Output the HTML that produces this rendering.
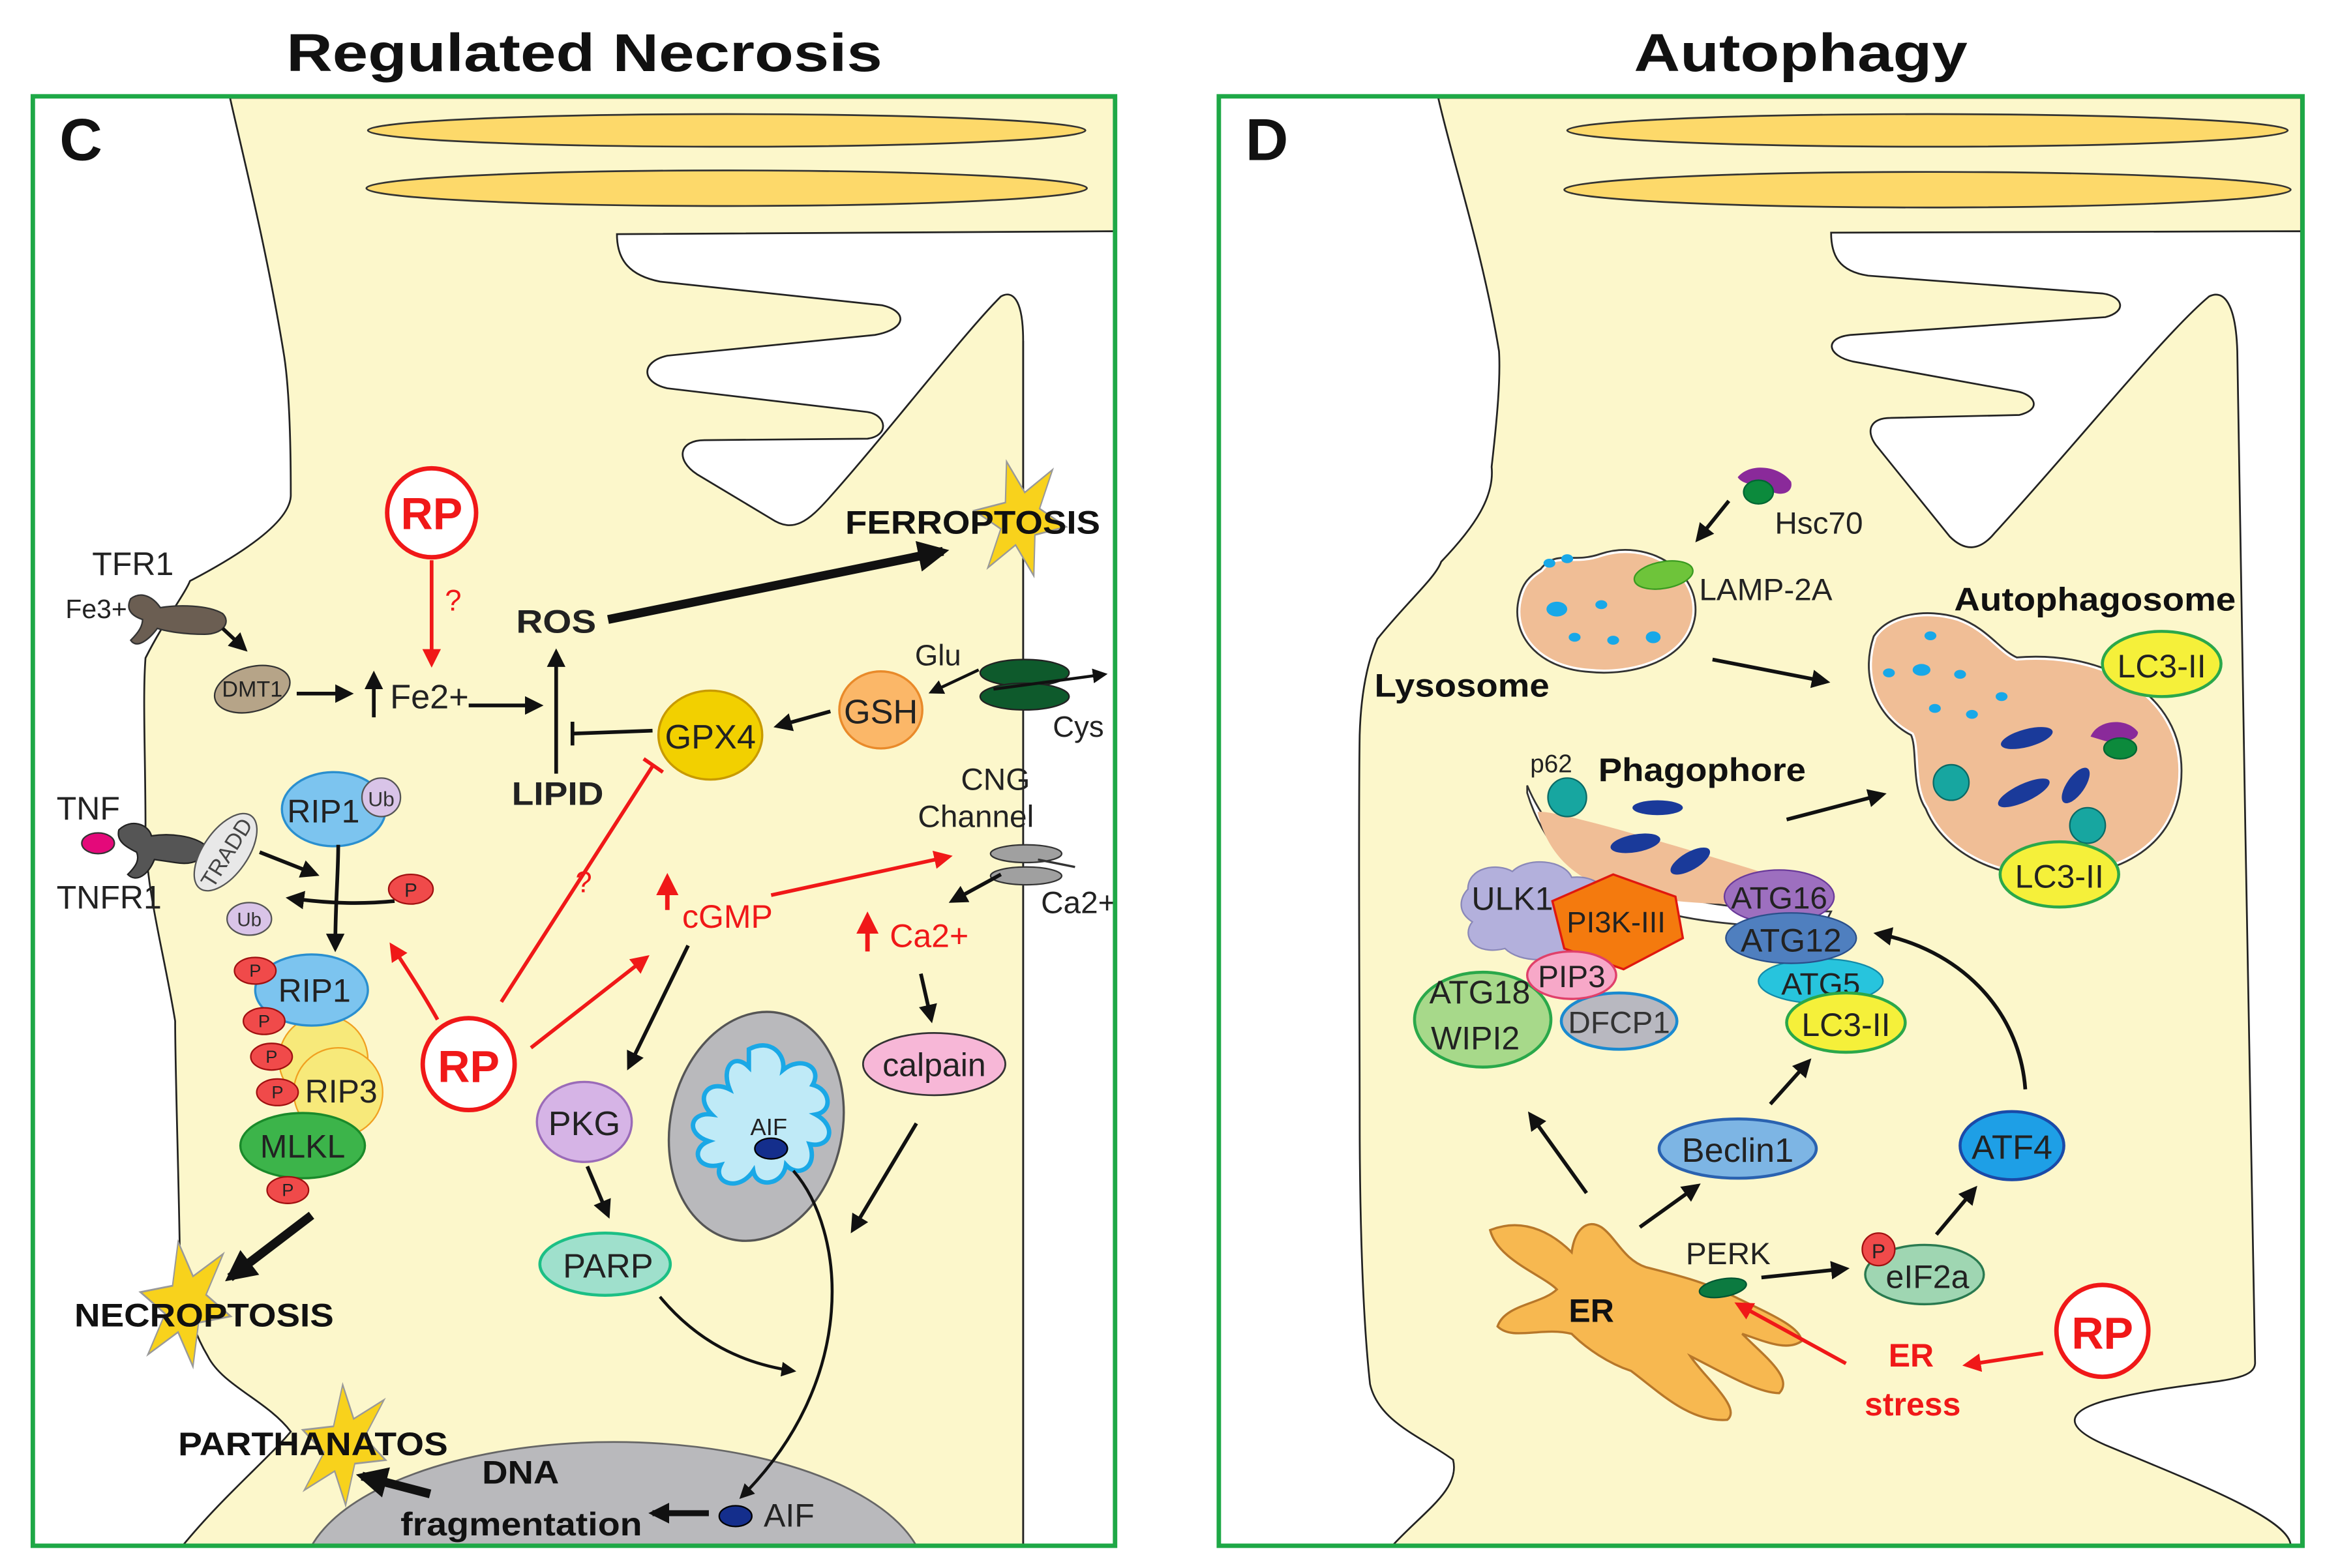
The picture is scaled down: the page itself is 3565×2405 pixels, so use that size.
<!DOCTYPE html>
<html><head><meta charset="utf-8">
<style>
html,body{margin:0;padding:0;background:#fff;width:3565px;height:2405px;overflow:hidden;}
svg{display:block;}
text{font-family:"Liberation Sans",sans-serif;}
.b{font-weight:bold;}
</style></head>
<body>
<svg width="3565" height="2405" viewBox="0 0 1568 1058" xmlns="http://www.w3.org/2000/svg">
<defs>
<marker id="ak" viewBox="0 0 10 10" refX="8" refY="5" markerWidth="5" markerHeight="5" orient="auto"><path d="M0,0 L10,5 L0,10 z" fill="#111"/></marker>
<marker id="ar" viewBox="0 0 10 10" refX="8" refY="5" markerWidth="5" markerHeight="5" orient="auto"><path d="M0,0 L10,5 L0,10 z" fill="#f01818"/></marker>
<marker id="akb" viewBox="0 0 10 10" refX="8" refY="5" markerWidth="3.5" markerHeight="3.5" orient="auto"><path d="M0,0 L10,5 L0,10 z" fill="#111"/></marker>
<polygon id="star" points="35,0 13,7.5 17.5,30.3 0,15 -17.5,30.3 -13,7.5 -35,0 -13,-7.5 -17.5,-30.3 0,-15 17.5,-30.3 13,-7.5" fill="#f8d21c" stroke="#999" stroke-width="1"/>
</defs>

<!-- Titles -->
<text x="193" y="48" textLength="402" lengthAdjust="spacingAndGlyphs" class="b" font-size="36" fill="#111">Regulated Necrosis</text>
<text x="1102" y="48" textLength="225" lengthAdjust="spacingAndGlyphs" class="b" font-size="36" fill="#111">Autophagy</text>

<!-- ============ PANEL C ============ -->
<g>
<path d="M155,66 L752,66 L752,1043 L123,1043 C150,1010 180,985 196,966 C180,945 150,935 140,915 C125,890 121,860 121,837 C120,780 118,720 118,689 C110,640 98,600 98,560 C98,510 96,470 98,444 C110,420 125,400 128,392 C170,370 196,350 196,334 C196,300 195,260 191,237 C180,170 165,110 155,66 Z" fill="#fcf7cb" stroke="#222" stroke-width="1.2"/>
<path d="M416,158 L752,156 L752,1043 L690,1043 L690,230 C690,200 682,196 675,200 C650,225 600,290 560,335 C545,352 535,360 520,350 L470,320 C455,310 458,297 475,297 L585,296 C600,294 598,280 585,278 L450,262 C432,258 432,244 450,240 L590,226 C612,222 612,210 595,206 L445,190 C425,186 416,176 416,158 Z" fill="#fff" stroke="#222" stroke-width="1.2"/>
<line x1="690" y1="230" x2="690" y2="1043" stroke="#222" stroke-width="1.2"/>
<ellipse cx="490" cy="88" rx="242" ry="11" fill="#fdd96a" stroke="#333" stroke-width="1.2"/>
<ellipse cx="490" cy="127" rx="243" ry="12" fill="#fdd96a" stroke="#333" stroke-width="1.2"/>
<ellipse cx="414" cy="1065" rx="210" ry="92" fill="#b9b9bc" stroke="#666" stroke-width="1.2"/>
<rect x="22" y="1043" width="740" height="15" fill="#fff"/>
<text x="40" y="108" class="b" font-size="40" fill="#111">C</text>

<g transform="scale(1.04,1) translate(-0,0)">
</g>
<circle cx="291" cy="346" r="30" fill="#fff" stroke="#f01818" stroke-width="3"/>
<text x="291" y="357" text-anchor="middle" class="b" font-size="30" fill="#f01818">RP</text>
<line x1="291" y1="378" x2="291" y2="448" stroke="#f01818" stroke-width="2.5" marker-end="url(#ar)"/>
<text x="300" y="412" font-size="20" fill="#f01818">?</text>

<text x="62" y="388" font-size="22" fill="#222">TFR1</text>
<text x="44" y="417" font-size="18" fill="#222">Fe3+</text>
<path d="M88,404 C96,398 104,404 108,410 C120,408 140,408 150,414 C156,420 150,428 138,428 C124,428 112,426 106,424 C100,432 92,438 88,432 C94,426 96,422 96,418 C90,416 84,412 88,404 Z" fill="#6b5e52" stroke="#333"/>
<line x1="150" y1="424" x2="165" y2="438" stroke="#111" stroke-width="2.5" marker-end="url(#ak)"/>
<ellipse cx="170" cy="465" rx="26" ry="15" transform="rotate(-15 170 465)" fill="#b6a488" stroke="#333"/>
<text x="170" y="470" text-anchor="middle" font-size="15" fill="#222">DMT1</text>
<line x1="200" y1="468" x2="236" y2="468" stroke="#111" stroke-width="2.5" marker-end="url(#ak)"/>
<line x1="252" y1="484" x2="252" y2="455" stroke="#111" stroke-width="2.5" marker-end="url(#ak)"/>
<text x="263" y="478" font-size="23" fill="#222">Fe2+</text>
<line x1="316" y1="476" x2="364" y2="476" stroke="#111" stroke-width="2.5" marker-end="url(#ak)"/>
<text x="348" y="427" class="b" font-size="22" fill="#222" textLength="54" lengthAdjust="spacingAndGlyphs">ROS</text>
<line x1="375" y1="522" x2="375" y2="440" stroke="#111" stroke-width="2.5" marker-end="url(#ak)"/>
<text x="345" y="543" class="b" font-size="22" fill="#222" textLength="62" lengthAdjust="spacingAndGlyphs">LIPID</text>
<line x1="440" y1="493" x2="386" y2="495" stroke="#111" stroke-width="2.5"/>
<line x1="386" y1="487" x2="386" y2="503" stroke="#111" stroke-width="2.5"/>
<use href="#star" transform="translate(688,350) rotate(10) scale(0.9,1.2)"/>
<line x1="410" y1="418" x2="636" y2="372" stroke="#111" stroke-width="6" marker-end="url(#akb)"/>
<text x="570" y="360" class="b" font-size="22" fill="#111" textLength="172" lengthAdjust="spacingAndGlyphs">FERROPTOSIS</text>
<ellipse cx="479" cy="496" rx="35" ry="30" fill="#f2d000" stroke="#c89a00" stroke-width="1.5"/>
<text x="479" y="505" text-anchor="middle" font-size="23" fill="#222">GPX4</text>
<line x1="560" y1="480" x2="524" y2="490" stroke="#111" stroke-width="2.5" marker-end="url(#ak)"/>
<ellipse cx="594" cy="479" rx="28" ry="26" fill="#fbb768" stroke="#e98a2a" stroke-width="1.5"/>
<text x="594" y="488" text-anchor="middle" font-size="23" fill="#222">GSH</text>
<text x="617" y="449" font-size="20" fill="#222">Glu</text>
<text x="710" y="497" font-size="20" fill="#222">Cys</text>
<ellipse cx="691" cy="454" rx="30" ry="9" fill="#0e5a2c" stroke="#222"/>
<ellipse cx="691" cy="470" rx="30" ry="9" fill="#0e5a2c" stroke="#222"/>
<line x1="660" y1="452" x2="628" y2="467" stroke="#111" stroke-width="2" marker-end="url(#ak)"/>
<line x1="670" y1="465" x2="745" y2="455" stroke="#111" stroke-width="2" marker-end="url(#ak)"/>
<text x="648" y="533" font-size="21" fill="#222">CNG</text>
<text x="619" y="558" font-size="21" fill="#222">Channel</text>
<ellipse cx="692" cy="576" rx="24" ry="6" fill="#a0a0a0" stroke="#333"/>
<ellipse cx="692" cy="591" rx="24" ry="6" fill="#a0a0a0" stroke="#333"/>
<line x1="700" y1="580" x2="725" y2="585" stroke="#333" stroke-width="1.5"/>
<line x1="675" y1="590" x2="642" y2="608" stroke="#111" stroke-width="2.5" marker-end="url(#ak)"/>
<text x="702" y="616" font-size="21" fill="#222">Ca2+</text>
<text x="38" y="553" font-size="22" fill="#222">TNF</text>
<text x="38" y="613" font-size="22" fill="#222">TNFR1</text>
<path d="M80,560 C88,552 100,556 102,564 C115,562 130,564 138,570 C140,580 130,584 118,582 L104,580 C100,590 92,596 86,590 C92,584 94,580 92,575 C86,572 78,568 80,560 Z" fill="#555" stroke="#222"/>
<ellipse cx="66" cy="569" rx="11" ry="7" fill="#e4097a" stroke="#333"/>
<ellipse cx="152" cy="575" rx="15" ry="30" transform="rotate(35 152 575)" fill="#e8e8e8" stroke="#555"/>
<text x="152" y="581" text-anchor="middle" font-size="15" fill="#444" transform="rotate(-58 152 575)">TRADD</text>
<ellipse cx="225" cy="546" rx="35" ry="25" fill="#7cc4ef" stroke="#2a8fcf" stroke-width="1.5"/>
<text x="218" y="555" text-anchor="middle" font-size="22" fill="#222">RIP1</text>
<circle cx="257" cy="538" r="13" fill="#d9c4e8" stroke="#555"/>
<text x="257" y="544" text-anchor="middle" font-size="14" fill="#333">Ub</text>
<line x1="175" y1="575" x2="213" y2="590" stroke="#111" stroke-width="2.5" marker-end="url(#ak)"/>
<path d="M228,570 C228,590 226,610 226,640" stroke="#111" stroke-width="2.5" fill="none" marker-end="url(#ak)"/>
<path d="M266,608 C245,610 225,610 195,606" stroke="#111" stroke-width="2.5" fill="none" marker-end="url(#ak)"/>
<ellipse cx="277" cy="600" rx="15" ry="10" fill="#f04a4a" stroke="#a01010"/>
<text x="277" y="605" text-anchor="middle" font-size="13" fill="#222">P</text>
<ellipse cx="168" cy="620" rx="15" ry="11" fill="#d9c4e8" stroke="#555"/>
<text x="168" y="625" text-anchor="middle" font-size="13" fill="#333">Ub</text>
<circle cx="218" cy="715" r="30" fill="#f7e97a" stroke="#f0a020"/>
<circle cx="228" cy="737" r="30" fill="#f7e97a" stroke="#f0a020"/>
<ellipse cx="210" cy="668" rx="38" ry="24" fill="#7cc4ef" stroke="#2a8fcf" stroke-width="1.5"/>
<text x="212" y="676" text-anchor="middle" font-size="22" fill="#222">RIP1</text>
<text x="230" y="744" text-anchor="middle" font-size="22" fill="#222">RIP3</text>
<ellipse cx="204" cy="773" rx="42" ry="22" fill="#3cb44a" stroke="#1a8a2a" stroke-width="1.5"/>
<text x="204" y="781" text-anchor="middle" font-size="22" fill="#222">MLKL</text>
<g font-size="12" text-anchor="middle" fill="#222">
<ellipse cx="172" cy="655" rx="14" ry="9" fill="#f04a4a" stroke="#a01010"/><text x="172" y="659">P</text>
<ellipse cx="178" cy="689" rx="14" ry="9" fill="#f04a4a" stroke="#a01010"/><text x="178" y="693">P</text>
<ellipse cx="183" cy="713" rx="14" ry="9" fill="#f04a4a" stroke="#a01010"/><text x="183" y="717">P</text>
<ellipse cx="187" cy="737" rx="14" ry="9" fill="#f04a4a" stroke="#a01010"/><text x="187" y="741">P</text>
<ellipse cx="194" cy="803" rx="14" ry="9" fill="#f04a4a" stroke="#a01010"/><text x="194" y="807">P</text>
</g>
<use href="#star" transform="translate(125,880) rotate(15) scale(0.9,1.3)"/>
<line x1="210" y1="820" x2="155" y2="862" stroke="#111" stroke-width="6" marker-end="url(#akb)"/>
<text x="50" y="895" class="b" font-size="22" fill="#111" textLength="175" lengthAdjust="spacingAndGlyphs">NECROPTOSIS</text>
<circle cx="316" cy="718" r="31" fill="#fff" stroke="#f01818" stroke-width="3"/>
<text x="316" y="730" text-anchor="middle" class="b" font-size="30" fill="#f01818">RP</text>
<path d="M295,688 C285,670 275,655 264,638" stroke="#f01818" stroke-width="2.5" fill="none" marker-end="url(#ar)"/>
<line x1="338" y1="676" x2="440" y2="517" stroke="#f01818" stroke-width="2.5"/>
<line x1="434" y1="512" x2="447" y2="521" stroke="#f01818" stroke-width="2.5"/>
<text x="388" y="602" font-size="20" fill="#f01818">?</text>
<line x1="358" y1="707" x2="436" y2="646" stroke="#f01818" stroke-width="2.5" marker-end="url(#ar)"/>
<line x1="450" y1="614" x2="450" y2="592" stroke="#f01818" stroke-width="3" marker-end="url(#ar)"/>
<text x="460" y="626" font-size="22" fill="#f01818">cGMP</text>
<line x1="520" y1="604" x2="640" y2="578" stroke="#f01818" stroke-width="2.5" marker-end="url(#ar)"/>
<line x1="585" y1="642" x2="585" y2="618" stroke="#f01818" stroke-width="3" marker-end="url(#ar)"/>
<text x="600" y="639" font-size="22" fill="#f01818">Ca2+</text>
<line x1="464" y1="638" x2="424" y2="720" stroke="#111" stroke-width="2.5" marker-end="url(#ak)"/>
<ellipse cx="394" cy="757" rx="32" ry="27" fill="#d6b4e6" stroke="#9a6bb8" stroke-width="1.5"/>
<text x="394" y="766" text-anchor="middle" font-size="23" fill="#222">PKG</text>
<line x1="396" y1="787" x2="410" y2="820" stroke="#111" stroke-width="2.5" marker-end="url(#ak)"/>
<ellipse cx="408" cy="853" rx="44" ry="21" fill="#9fe0cc" stroke="#1cbf85" stroke-width="2"/>
<text x="410" y="862" text-anchor="middle" font-size="23" fill="#222">PARP</text>
<path d="M445,875 C470,905 500,920 535,925" stroke="#111" stroke-width="2" fill="none" marker-end="url(#ak)"/>
<line x1="621" y1="657" x2="628" y2="688" stroke="#111" stroke-width="2.5" marker-end="url(#ak)"/>
<ellipse cx="630" cy="718" rx="48" ry="21" fill="#f7b7d7" stroke="#333" stroke-width="1.2"/>
<text x="630" y="726" text-anchor="middle" font-size="22" fill="#222">calpain</text>
<line x1="618" y1="758" x2="575" y2="830" stroke="#111" stroke-width="2.5" marker-end="url(#ak)"/>
<ellipse cx="510" cy="760" rx="58" ry="78" transform="rotate(12 510 760)" fill="#b9b9bc" stroke="#555" stroke-width="1.5"/>
<path d="M505,708 C520,700 530,712 528,722 C540,712 555,720 548,732 C560,735 562,750 550,752 C565,760 560,775 546,772 C552,788 538,795 530,786 C528,800 510,802 508,790 C498,805 480,798 486,786 C470,790 465,775 478,770 C462,765 465,750 480,752 C468,740 478,728 492,735 C486,720 495,710 505,720 Z" fill="#bfeaf7" stroke="#1aa8e6" stroke-width="3"/>
<text x="506" y="766" font-size="16" fill="#222">AIF</text>
<ellipse cx="520" cy="775" rx="11" ry="7" fill="#142e8c" stroke="#000"/>
<path d="M535,790 C570,830 580,930 500,1010" stroke="#111" stroke-width="2" fill="none" marker-end="url(#ak)"/>
<use href="#star" transform="translate(232,975) rotate(20) scale(0.85,1.25)"/>
<text x="120" y="982" class="b" font-size="22" fill="#111" textLength="182" lengthAdjust="spacingAndGlyphs">PARTHANATOS</text>
<line x1="290" y1="1008" x2="244" y2="996" stroke="#111" stroke-width="6" marker-end="url(#akb)"/>
<text x="325" y="1001" class="b" font-size="22" fill="#111" textLength="52" lengthAdjust="spacingAndGlyphs">DNA</text>
<text x="270" y="1036" class="b" font-size="22" fill="#111" textLength="163" lengthAdjust="spacingAndGlyphs">fragmentation</text>
<line x1="478" y1="1021" x2="440" y2="1021" stroke="#111" stroke-width="4" marker-end="url(#akb)"/>
<ellipse cx="496" cy="1023" rx="11" ry="7" fill="#142e8c" stroke="#000"/>
<text x="515" y="1030" font-size="22" fill="#222">AIF</text>
<rect x="22" y="65" width="730" height="978" fill="none" stroke="#1ea846" stroke-width="3"/>
</g>

<!-- ============ PANEL D ============ -->
<g>
<path d="M970,66 L1552,66 L1552,1043 L939,1043 C960,1020 985,1005 980,985 C960,970 930,960 924,934 C918,880 917,800 917,754 C917,680 916,560 917,496 C918,460 925,440 929,431 C950,405 968,390 972,379 C995,355 1008,335 1006,315 C1010,280 1012,255 1011,237 C1000,170 980,110 970,66 Z" fill="#fcf7cb" stroke="#222" stroke-width="1.2"/>
<path d="M1235,157 L1552,156 L1552,1043 L1545,1043 C1545,1025 1480,1000 1420,975 C1390,962 1395,952 1420,945 C1480,930 1520,935 1521,920 C1518,800 1512,400 1509,237 C1508,205 1500,195 1490,200 C1460,225 1400,300 1345,360 C1335,372 1325,372 1315,362 L1265,300 C1258,290 1262,282 1275,282 L1362,280 C1378,276 1372,266 1360,264 L1250,244 C1232,240 1230,228 1248,226 L1420,214 C1435,210 1432,200 1418,198 L1260,186 C1240,183 1235,172 1235,157 Z" fill="#fff" stroke="#222" stroke-width="1.2"/>
<ellipse cx="1300" cy="88" rx="243" ry="11" fill="#fdd96a" stroke="#333" stroke-width="1.2"/>
<ellipse cx="1300" cy="128" rx="245" ry="12" fill="#fdd96a" stroke="#333" stroke-width="1.2"/>
<text x="840" y="108" class="b" font-size="40" fill="#111">D</text>

<path d="M1172,322 C1180,312 1200,314 1208,325 C1210,333 1200,336 1192,330 C1185,326 1176,328 1172,322 Z" fill="#8a2a9a"/>
<ellipse cx="1186" cy="332" rx="10" ry="8" fill="#0c8a3c" stroke="#063"/>
<text x="1197" y="360" font-size="21" fill="#222">Hsc70</text>
<line x1="1166" y1="338" x2="1145" y2="364" stroke="#111" stroke-width="2.5" marker-end="url(#ak)"/>
<path d="M1040,385 C1050,372 1060,382 1080,375 C1110,365 1145,385 1142,415 C1138,445 1100,455 1072,452 C1040,450 1022,430 1025,408 C1027,395 1032,390 1040,385 Z" fill="#f0be96" stroke="#333" stroke-width="4"/>
<path d="M1040,385 C1050,372 1060,382 1080,375 C1110,365 1145,385 1142,415 C1138,445 1100,455 1072,452 C1040,450 1022,430 1025,408 C1027,395 1032,390 1040,385 Z" fill="#f0be96" stroke="#fff" stroke-width="1.5"/>
<g fill="#18a8e8"><ellipse cx="1050" cy="411" rx="7" ry="5"/><ellipse cx="1080" cy="408" rx="4" ry="3"/><ellipse cx="1062" cy="430" rx="4" ry="3"/><ellipse cx="1088" cy="432" rx="4" ry="3"/><ellipse cx="1115" cy="430" rx="5" ry="4"/><ellipse cx="1045" cy="380" rx="4" ry="3"/><ellipse cx="1057" cy="377" rx="4" ry="3"/></g>
<ellipse cx="1122" cy="388" rx="20" ry="9" transform="rotate(-10 1122 388)" fill="#6ec43a" stroke="#3a9a20"/>
<text x="1146" y="405" font-size="21" fill="#222">LAMP-2A</text>
<text x="927" y="470" class="b" font-size="22" fill="#111" textLength="118" lengthAdjust="spacingAndGlyphs">Lysosome</text>
<line x1="1155" y1="445" x2="1232" y2="460" stroke="#111" stroke-width="2.5" marker-end="url(#ak)"/>
<text x="1318" y="412" class="b" font-size="22" fill="#111" textLength="190" lengthAdjust="spacingAndGlyphs">Autophagosome</text>
<path d="M1265,430 C1275,415 1300,412 1320,418 C1340,425 1348,440 1360,445 C1420,440 1470,470 1470,520 C1470,575 1420,592 1380,590 C1340,590 1310,570 1300,545 C1290,530 1295,505 1290,495 C1270,485 1255,460 1265,430 Z" fill="#f0be96" stroke="#333" stroke-width="4"/>
<path d="M1265,430 C1275,415 1300,412 1320,418 C1340,425 1348,440 1360,445 C1420,440 1470,470 1470,520 C1470,575 1420,592 1380,590 C1340,590 1310,570 1300,545 C1290,530 1295,505 1290,495 C1270,485 1255,460 1265,430 Z" fill="#f0be96" stroke="#fff" stroke-width="1.5"/>
<g fill="#18a8e8"><ellipse cx="1302" cy="429" rx="4" ry="3"/><ellipse cx="1296" cy="452" rx="6" ry="4"/><ellipse cx="1274" cy="454" rx="4" ry="3"/><ellipse cx="1322" cy="455" rx="4" ry="3"/><ellipse cx="1350" cy="470" rx="4" ry="3"/><ellipse cx="1305" cy="478" rx="4" ry="3"/><ellipse cx="1330" cy="482" rx="4" ry="3"/></g>
<g fill="#1a3a9a"><ellipse cx="1367" cy="498" rx="18" ry="6" transform="rotate(-15 1367 498)"/><ellipse cx="1365" cy="535" rx="19" ry="6" transform="rotate(-25 1365 535)"/><ellipse cx="1400" cy="530" rx="14" ry="6" transform="rotate(-55 1400 530)"/></g>
<circle cx="1316" cy="528" r="12" fill="#17a6a0" stroke="#0a6a66"/>
<circle cx="1408" cy="557" r="12" fill="#17a6a0" stroke="#0a6a66"/>
<path d="M1410,497 C1415,485 1435,484 1442,494 C1442,500 1430,502 1420,500 Z" fill="#8a2a9a"/>
<ellipse cx="1430" cy="505" rx="11" ry="7" fill="#0c8a3c" stroke="#063"/>
<ellipse cx="1458" cy="448" rx="40" ry="22" fill="#f5f03a" stroke="#2aa84a" stroke-width="2"/>
<text x="1458" y="457" text-anchor="middle" font-size="22" fill="#222">LC3-II</text>
<ellipse cx="1389" cy="590" rx="40" ry="22" fill="#f5f03a" stroke="#2aa84a" stroke-width="2"/>
<text x="1389" y="599" text-anchor="middle" font-size="22" fill="#222">LC3-II</text>
<text x="1032" y="521" font-size="17" fill="#222">p62</text>
<text x="1078" y="527" class="b" font-size="22" fill="#111" textLength="140" lengthAdjust="spacingAndGlyphs">Phagophore</text>
<line x1="1205" y1="553" x2="1270" y2="536" stroke="#111" stroke-width="2.5" marker-end="url(#ak)"/>
<path d="M1030,530 C1055,590 1120,615 1235,615 L1230,625 C1110,628 1050,600 1030,535 Z" fill="#fff" stroke="#333" stroke-width="1.2"/>
<path d="M1037,548 C1045,545 1130,570 1225,600 C1210,615 1120,612 1080,598 C1055,588 1042,570 1037,548 Z" fill="#f0be96"/>
<circle cx="1057" cy="538" r="13" fill="#17a6a0" stroke="#0a6a66"/>
<g fill="#1a3a9a"><ellipse cx="1118" cy="545" rx="17" ry="5"/><ellipse cx="1103" cy="569" rx="17" ry="6" transform="rotate(-10 1103 569)"/><ellipse cx="1140" cy="581" rx="15" ry="6" transform="rotate(-30 1140 581)"/></g>
<path d="M990,600 C990,585 1010,582 1020,588 C1030,578 1055,580 1060,592 C1080,590 1090,605 1080,618 C1092,630 1078,645 1060,640 C1050,650 1025,650 1015,640 C995,645 985,632 993,622 C982,615 985,605 990,600 Z" fill="#b3b0dc" stroke="#8a88b8"/>
<text x="1020" y="614" text-anchor="middle" font-size="22" fill="#222">ULK1</text>
<polygon points="1047,608 1088,590 1130,605 1135,633 1095,654 1055,640" fill="#f47a0e" stroke="#e0180e" stroke-width="1.5"/>
<text x="1090" y="629" text-anchor="middle" font-size="20" fill="#222">PI3K-III</text>
<ellipse cx="1000" cy="688" rx="46" ry="32" fill="#a7d98a" stroke="#2aa84a" stroke-width="2"/>
<text x="998" y="677" text-anchor="middle" font-size="22" fill="#222">ATG18</text>
<text x="995" y="708" text-anchor="middle" font-size="22" fill="#222">WIPI2</text>
<ellipse cx="1092" cy="689" rx="39" ry="19" fill="#b8b8c0" stroke="#1a8ad0" stroke-width="2"/>
<text x="1092" y="697" text-anchor="middle" font-size="21" fill="#333">DFCP1</text>
<ellipse cx="1060" cy="658" rx="30" ry="16" fill="#f7a8c8" stroke="#e0406a" stroke-width="1.5"/>
<text x="1060" y="666" text-anchor="middle" font-size="21" fill="#222">PIP3</text>
<ellipse cx="1228" cy="662" rx="42" ry="15" fill="#27c4dd" stroke="#138aa8"/>
<text x="1228" y="671" text-anchor="middle" font-size="21" fill="#222">ATG5</text>
<ellipse cx="1200" cy="605" rx="37" ry="18" fill="#9d6fbf" stroke="#6a3a9a"/>
<text x="1200" y="613" text-anchor="middle" font-size="21" fill="#222">ATG16</text>
<ellipse cx="1208" cy="633" rx="44" ry="17" fill="#4f7fbf" stroke="#2a4f8a"/>
<text x="1208" y="642" text-anchor="middle" font-size="22" fill="#222">ATG12</text>
<ellipse cx="1245" cy="690" rx="40" ry="20" fill="#f5f03a" stroke="#2aa84a" stroke-width="2"/>
<text x="1245" y="699" text-anchor="middle" font-size="22" fill="#222">LC3-II</text>
<ellipse cx="1172" cy="775" rx="53" ry="20" fill="#7db5e4" stroke="#2a62b0" stroke-width="2"/>
<text x="1172" y="784" text-anchor="middle" font-size="23" fill="#222">Beclin1</text>
<ellipse cx="1357" cy="773" rx="35" ry="23" fill="#1e9fe6" stroke="#1a4aa8" stroke-width="2"/>
<text x="1357" y="782" text-anchor="middle" font-size="23" fill="#222">ATF4</text>
<line x1="1070" y1="805" x2="1032" y2="752" stroke="#111" stroke-width="2.5" marker-end="url(#ak)"/>
<line x1="1106" y1="828" x2="1145" y2="800" stroke="#111" stroke-width="2.5" marker-end="url(#ak)"/>
<line x1="1194" y1="745" x2="1220" y2="716" stroke="#111" stroke-width="2.5" marker-end="url(#ak)"/>
<path d="M1366,735 C1362,680 1320,640 1266,630" stroke="#111" stroke-width="2.5" fill="none" marker-end="url(#ak)"/>
<line x1="1306" y1="833" x2="1332" y2="802" stroke="#111" stroke-width="2.5" marker-end="url(#ak)"/>
<path d="M1005,830 C1030,820 1050,835 1060,845 C1062,830 1070,822 1080,828 C1090,835 1095,850 1110,855 C1130,860 1150,865 1170,875 C1190,885 1215,895 1215,905 C1205,912 1190,905 1175,900 C1190,915 1210,930 1200,940 C1185,940 1160,925 1140,915 C1150,930 1175,950 1165,958 C1140,960 1120,940 1100,925 C1085,920 1070,910 1060,900 C1040,895 1020,905 1010,895 C1015,880 1040,880 1050,870 C1040,860 1010,850 1005,830 Z" fill="#f7b850" stroke="#b7772a" stroke-width="1.5"/>
<text x="1058" y="892" class="b" font-size="22" fill="#111">ER</text>
<text x="1137" y="853" font-size="21" fill="#222">PERK</text>
<ellipse cx="1162" cy="869" rx="16" ry="6" transform="rotate(-10 1162 869)" fill="#0c7a40" stroke="#053"/>
<line x1="1188" y1="862" x2="1245" y2="856" stroke="#111" stroke-width="2.5" marker-end="url(#ak)"/>
<ellipse cx="1298" cy="860" rx="40" ry="20" fill="#9fd6b2" stroke="#2a7a50" stroke-width="1.5"/>
<text x="1300" y="869" text-anchor="middle" font-size="22" fill="#222">eIF2a</text>
<circle cx="1267" cy="843" r="11" fill="#f04a4a" stroke="#a01010"/>
<text x="1267" y="849" text-anchor="middle" font-size="14" fill="#222">P</text>
<circle cx="1418" cy="898" r="31" fill="#fff" stroke="#f01818" stroke-width="3"/>
<text x="1418" y="910" text-anchor="middle" class="b" font-size="30" fill="#f01818">RP</text>
<line x1="1378" y1="913" x2="1326" y2="921" stroke="#f01818" stroke-width="2.5" marker-end="url(#ar)"/>
<text x="1289" y="922" text-anchor="middle" class="b" font-size="22" fill="#f01818">ER</text>
<text x="1290" y="955" text-anchor="middle" class="b" font-size="22" fill="#f01818">stress</text>
<line x1="1245" y1="920" x2="1172" y2="880" stroke="#f01818" stroke-width="2.5" marker-end="url(#ar)"/>
<rect x="822" y="65" width="731" height="978" fill="none" stroke="#1ea846" stroke-width="3"/>
</g>
</svg>
</body></html>
